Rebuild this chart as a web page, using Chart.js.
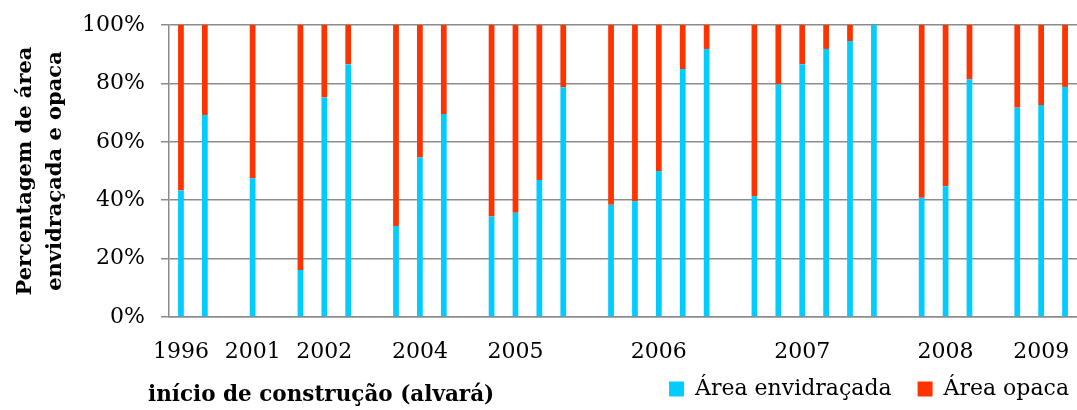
<!DOCTYPE html>
<html>
<head>
<meta charset="utf-8">
<script src="https://cdn.jsdelivr.net/npm/chart.js@4"></script>
<style>
  html, body { margin: 0; padding: 0; background: #fff; }
  #wrap { width: 1077px; height: 410px; }
</style>
</head>
<body>
<div id="wrap"><canvas id="chart"></canvas></div>
<script>
// categorias (posições no eixo, algumas vazias) e rótulos de ano
var anos = ['1996', '', '', '2001', '', '', '2002', '', '', '', '2004', '', '', '', '2005', '', '', '', '', '', '2006', '', '', '', '', '', '2007', '', '', '', '', '', '2008', '', '', '', '2009', ''];

// % área envidraçada
var envidracada = [43.3, 69.2, null, 47.5, null, 16.1, 75.2, 86.5, null, 31.2, 54.6, 69.5, null, 34.4, 35.7, 46.9, 78.7, null, 38.4, 39.7, 50.0, 84.9, 91.8, null, 41.4, 79.6, 86.6, 91.8, 94.5, 100, null, 40.8, 44.8, 81.4, null, 71.7, 72.6, 78.8];

// % área opaca
var opaca = [56.7, 30.8, null, 52.5, null, 83.9, 24.8, 13.5, null, 68.8, 45.4, 30.5, null, 65.6, 64.3, 53.1, 21.3, null, 61.6, 60.3, 50.0, 15.1, 8.2, null, 58.6, 20.4, 13.4, 8.2, 5.5, 0, null, 59.2, 55.2, 18.6, null, 28.3, 27.4, 21.2];

var fonte = 'DejaVu Serif';

// título do eixo x desenhado na mesma linha da legenda
var tituloX = {
    id: 'tituloX',
    afterDraw: function (chart) {
        var ctx = chart.ctx;
        ctx.save();
        ctx.font = 'bold 21.5px "' + fonte + '"';
        ctx.fillStyle = '#000';
        ctx.textAlign = 'left';
        ctx.textBaseline = 'middle';
        ctx.fillText('início de construção (alvará)', 148, 395);
        ctx.restore();
    }
};

var ctx = document.getElementById('chart').getContext('2d');
var grafico = new Chart(ctx, {
    type: 'bar',
    data: {
        labels: anos,
        datasets: [{
            label: 'Área envidraçada',
            data: envidracada,
            backgroundColor: '#00CCFF',
            borderWidth: 0
        }, {
            label: 'Área opaca',
            data: opaca,
            backgroundColor: '#FF3300',
            borderWidth: 0
        }]
    },
    options: {
        responsive: true,
        maintainAspectRatio: false,
        animation: false,
        datasets: {
            bar: { barPercentage: 0.24, categoryPercentage: 1 }
        },
        layout: {
            padding: { top: 25, right: -4, left: 0, bottom: 0 }
        },
        plugins: {
            legend: {
                position: 'bottom',
                align: 'end',
                labels: {
                    boxWidth: 15,
                    boxHeight: 15,
                    padding: 12,
                    color: '#000',
                    font: { family: fonte, size: 22 },
                    generateLabels: function (chart) {
                        var itens = Chart.defaults.plugins.legend.labels.generateLabels(chart);
                        // espaço extra entre os dois itens
                        itens[0].text = itens[0].text + '  ';
                        return itens;
                    }
                }
            },
            tooltip: { enabled: false }
        },
        scales: {
            x: {
                stacked: true,
                grid: { display: true, drawOnChartArea: false, drawTicks: true, tickLength: 20, color: 'rgba(0,0,0,0)' },
                border: { display: true, color: '#8c8c8c', width: 1.5 },
                ticks: {
                    autoSkip: false,
                    maxRotation: 0,
                    padding: 2,
                    color: '#000',
                    font: { family: fonte, size: 22 }
                },
                afterFit: function (s) { s.height = 49; s.paddingRight = -4; }
            },
            y: {
                stacked: true,
                min: 0,
                max: 100,
                grid: { color: '#8c8c8c', lineWidth: 1.5, tickLength: 8 },
                border: { display: true, color: '#8c8c8c', width: 1.5 },
                ticks: {
                    stepSize: 20,
                    padding: 16,
                    color: '#000',
                    font: { family: fonte, size: 22 },
                    callback: function (v) { return v + '%'; }
                },
                title: {
                    display: true,
                    text: ['Percentagem de área', 'envidraçada e opaca'],
                    color: '#000',
                    font: { family: fonte, size: 21, weight: 'bold', lineHeight: 1.45 },
                    padding: { top: 10, bottom: 4 }
                },
                afterFit: function (s) { s.width = 169; s.paddingTop = 0; s.paddingBottom = 0; }
            }
        }
    },
    plugins: [tituloX]
});
</script>
</body>
</html>
